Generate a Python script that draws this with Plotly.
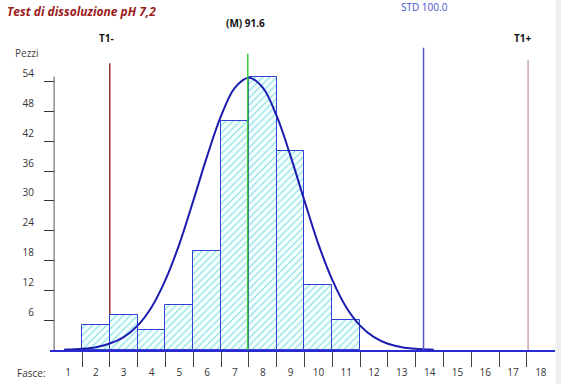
import plotly.graph_objects as go

# ---------------- data ----------------
fasce = list(range(1, 19))                      # class numbers (x categories)
fasce_labels = [str(f) for f in fasce]
bar_fasce = [2, 3, 4, 5, 6, 7, 8, 9, 10, 11]
pezzi = [5, 7, 4, 9, 20, 46, 55, 40, 13, 6]     # counts per class
y_ticks = [6, 12, 18, 24, 30, 36, 42, 48, 54]

# fitted normal curve (x in class units)
curve_x = [0.85, 1.0, 1.5, 2.0, 2.5, 3.0, 3.5, 4.0, 4.5, 5.0, 5.5, 6.0, 6.5, 7.0,
           7.5, 8.0, 8.5, 9.0, 9.5, 10.0, 10.5, 11.0, 11.5, 12.0, 12.5, 13.0,
           13.5, 14.0, 14.15]
curve_y = [0.05, 0.09, 0.24, 0.57, 1.3, 2.6, 4.9, 8.6, 14.1, 21.3, 30.0, 39.0,
           47.1, 52.8, 54.8, 52.8, 47.1, 39.0, 30.0, 21.3, 14.1, 8.6, 4.9, 2.58,
           1.26, 0.57, 0.24, 0.09, 0.05]

t1_minus = 2.5
media_pos = 7.46
std_pos = 13.78
t1_plus = 17.54

# ---------------- geometry ----------------
W, H = 561, 384
L, R, T, B = 50, 6, 0, 34
PW, PH = W - L - R, H - T - B
X0_PX, BIN_PX = 68.1, 27.81
Y_PX = 4.97
x_range = [1 + (L - X0_PX) / BIN_PX, 1 + (W - R - X0_PX) / BIN_PX]
y_range = [0, PH / Y_PX]


def px(x):
    return (x - L) / PW


def py(y):
    return (PH + T - y) / PH


fig = go.Figure()

fig.add_trace(go.Bar(
    x=bar_fasce, y=pezzi, width=1,
    marker=dict(
        color="#f2ffff",
        line=dict(color="#3040d0", width=1),
        pattern=dict(shape="/", fillmode="replace", fgcolor="#78d8e0",
                     bgcolor="#f4ffff", size=5, solidity=0.2),
    ),
    hoverinfo="skip", showlegend=False,
))

fig.add_trace(go.Scatter(
    x=curve_x, y=curve_y, mode="lines",
    line=dict(color="#1c1cb0", width=2, shape="spline", smoothing=1),
    hoverinfo="skip", showlegend=False,
))

shapes = [
    # y axis line
    dict(type="line", xref="x", yref="y", x0=0.496, x1=0.496, y0=0, y1=55,
         line=dict(color="#555555", width=1), layer="above"),
    # T1- (behind bars)
    dict(type="line", xref="x", yref="y", x0=t1_minus, x1=t1_minus, y0=0, y1=57.7,
         line=dict(color="#8b1010", width=1.3), layer="below"),
    # mean
    dict(type="line", xref="x", yref="y", x0=media_pos, x1=media_pos, y0=0, y1=59.6,
         line=dict(color="#3ccc3c", width=1.5), layer="above"),
    # STD
    dict(type="line", xref="x", yref="y", x0=std_pos, x1=std_pos, y0=0, y1=60.8,
         line=dict(color="#5858c4", width=1.5), layer="above"),
    # T1+
    dict(type="line", xref="x", yref="y", x0=t1_plus, x1=t1_plus, y0=0, y1=58.4,
         line=dict(color="#c49a9a", width=1.3), layer="above"),
    # light gray strip at right edge
    dict(type="rect", xref="paper", yref="paper", x0=px(555.5), x1=px(562),
         y0=py(385), y1=py(-1), fillcolor="#efefef", line=dict(width=0), layer="below"),
]

FONT = "Open Sans"
ann = [
    dict(text="<b><i>Test di dissoluzione pH 7,2</i></b>", x=px(5), y=py(12),
         xanchor="left", font=dict(family=FONT, size=12, color="#9b1c1c")),
    dict(text="<b>(M) 91.6</b>", x=px(245), y=py(23), xanchor="center",
         font=dict(family=FONT, size=10, color="#111111")),
    dict(text="STD 100.0", x=px(424), y=py(7), xanchor="center",
         font=dict(family=FONT, size=10, color="#3f4fcc")),
    dict(text="<b>T1-</b>", x=px(106), y=py(38), xanchor="center",
         font=dict(family=FONT, size=10, color="#111111")),
    dict(text="<b>T1+</b>", x=px(523), y=py(38), xanchor="center",
         font=dict(family=FONT, size=10, color="#111111")),
    dict(text="Pezzi", x=px(27), y=py(53), xanchor="center",
         font=dict(family=FONT, size=10, color="#444444")),
    dict(text="Fasce:", x=px(31), y=py(373), xanchor="center",
         font=dict(family=FONT, size=10, color="#333333")),
]
for a in ann:
    a.update(xref="paper", yref="paper", yanchor="middle", showarrow=False)

fig.update_layout(
    width=W, height=H,
    margin=dict(l=L, r=R, t=T, b=B, pad=0),
    paper_bgcolor="white", plot_bgcolor="white",
    bargap=0,
    shapes=shapes, annotations=ann,
    xaxis=dict(
        range=x_range, showgrid=False, zeroline=False,
        tickmode="array", tickvals=fasce, ticktext=fasce_labels,
        ticks="outside", ticklen=15, tickcolor="rgba(0,0,0,0)",
        ticklabelstandoff=-3,
        minor=dict(tickvals=[f + 0.5 for f in fasce[:-1]], ticks="outside",
                   ticklen=15, tickcolor="#444444", tickwidth=1),
        showline=True, linecolor="#2a2ad0", linewidth=1.5,
        tickfont=dict(family=FONT, size=10, color="#333333"),
        fixedrange=True,
    ),
    yaxis=dict(
        range=y_range, showgrid=False, zeroline=False, showline=False,
        anchor="free", position=px(54),
        tickmode="array", tickvals=y_ticks,
        ticks="outside", ticklen=10, tickcolor="#333333", tickwidth=1,
        ticklabelshift=-8, ticklabelstandoff=8,
        tickfont=dict(family=FONT, size=10, color="#333333"),
        fixedrange=True,
    ),
)

fig.write_html("out.html", config={"displayModeBar": False},
               post_script="document.body.style.margin='0px';")
